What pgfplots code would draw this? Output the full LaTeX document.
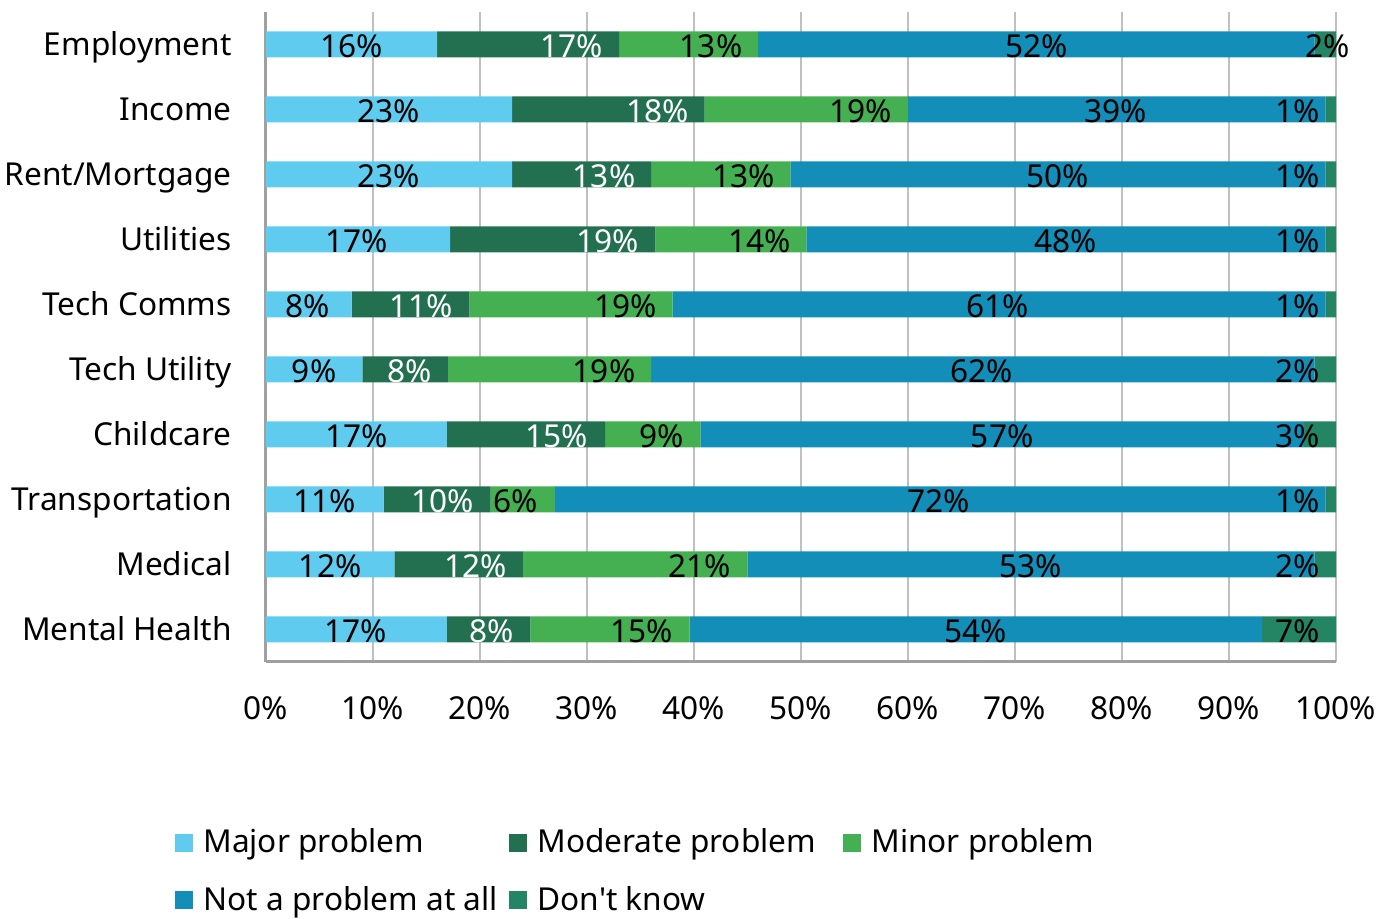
\documentclass[border=0pt]{standalone}
\usepackage{fontspec}
\setmainfont{Noto Sans}
\usepackage{pgfplots}
\pgfplotsset{compat=1.18}
\usepackage{pgfplotstable}

\definecolor{cmajor}{HTML}{5FCBEE}
\definecolor{cmoderate}{HTML}{237051}
\definecolor{cminor}{HTML}{44B052}
\definecolor{cnap}{HTML}{138EB9}
\definecolor{cdk}{HTML}{238563}
\definecolor{gridgray}{HTML}{C0C0C0}
\definecolor{axisgray}{HTML}{A0A0A0}

% segment widths, label centres (l...) and label text (t...), in %
\pgfplotstableread{
row  maj  mod  min  nap  dk   lmaj lmod lmin lnap ldk  tmaj tmod tmin tnap tdk
9    16   17   13   52   2    8.0  28.6 41.6 72.0 99.2 16   17   13   52   2
8    23   18   19   39   1    11.5 36.6 55.6 79.4 96.4 23   18   19   39   1
7    23   13   13   50   1    11.5 31.6 44.6 74.0 96.4 23   13   13   50   1
6    17.2 19.2 14.1 48.5 1.0  8.5  31.9 46.1 74.7 96.4 17   19   14   48   1
5    8    11   19   61   1    3.9  14.5 33.6 68.4 96.4 8    11   19   61   1
4    9    8    19   62   2    4.5  13.4 31.6 66.9 96.4 9    8    19   62   2
3    16.9 14.8 8.9  56.4 3.0  8.5  27.2 37.0 68.8 96.4 17   15   9    57   3
2    11   10   6    72   1    5.5  16.5 23.3 62.9 96.4 11   10   6    72   1
1    12   12   21   53   2    6.0  19.6 40.5 71.5 96.4 12   12   21   53   2
0    16.9 7.8  14.9 53.5 6.9  8.4  21.1 35.1 66.3 96.4 17   8    15   54   7
}\survey

\pgfplotsset{
  panel/.style={width=535pt, height=325pt, scale only axis,
    xmin=0, xmax=100, ymin=-0.5, ymax=9.5},
  lbl/.style={draw=none, mark=none, nodes near coords={\pgfplotspointmeta\%},
    point meta=explicit symbolic,
    every node near coord/.append style={anchor=center, inner sep=0pt,
      yshift=-0.8pt, text=#1}},
}

\begin{document}
\fontsize{15.8}{19}\selectfont
\begin{tikzpicture}
\useasboundingbox (-133pt,-128.5pt) rectangle (564pt,331pt);
\begin{axis}[panel,
  xbar stacked, bar width=13pt,
  axis lines*=left,
  axis line style={draw=axisgray, line width=1.5pt},
  xmajorgrids, major grid style={draw=gridgray, line width=1.2pt},
  major tick length=0pt,
  xtick={0,10,...,100},
  xticklabel={\pgfmathprintnumber{\tick}\%},
  /pgf/number format/assume math mode=true,
  xticklabel style={inner sep=0pt, yshift=-17pt},
  ytick={0,...,9},
  yticklabels={Mental Health, Medical, Transportation, Childcare, Tech Utility,
    Tech Comms, Utilities, Rent/Mortgage, Income, Employment},
  yticklabel style={anchor=base east, inner sep=0pt, xshift=-17pt, yshift=-5.5pt},
  legend columns=3, legend cell align=left,
  legend style={at={(-0.085,-0.3225)}, anchor=west, draw=none, fill=none,
    inner sep=0pt, row sep=14.5pt, column sep=0pt, nodes={inner sep=0pt}},
  legend image code/.code={\fill[#1] (0pt,-4.5pt) rectangle (9pt,4.5pt);},
]
\addplot[draw=none, fill=cmajor] table[x=maj, y=row] {\survey};
\addlegendentry{\hspace{5pt}\makebox[153pt][l]{Major problem}}
\addplot[draw=none, fill=cmoderate] table[x=mod, y=row] {\survey};
\addlegendentry{\hspace{5pt}\makebox[153pt][l]{Moderate problem}}
\addplot[draw=none, fill=cminor] table[x=min, y=row] {\survey};
\addlegendentry{\hspace{5pt}Minor problem}
\addplot[draw=none, fill=cnap] table[x=nap, y=row] {\survey};
\addlegendentry{\hspace{5pt}\makebox[153pt][l]{Not a problem at all}}
\addplot[draw=none, fill=cdk] table[x=dk, y=row] {\survey};
\addlegendentry{\hspace{5pt}Don\textquotesingle t know}
\end{axis}

\begin{axis}[panel, hide axis, clip=false]
\addplot[lbl=black] table[x=lmaj, y=row, meta=tmaj] {\survey};
\addplot[lbl=white] table[x=lmod, y=row, meta=tmod] {\survey};
\addplot[lbl=black] table[x=lmin, y=row, meta=tmin] {\survey};
\addplot[lbl=black] table[x=lnap, y=row, meta=tnap] {\survey};
\addplot[lbl=black] table[x=ldk, y=row, meta=tdk] {\survey};
\end{axis}
\end{tikzpicture}
\end{document}
